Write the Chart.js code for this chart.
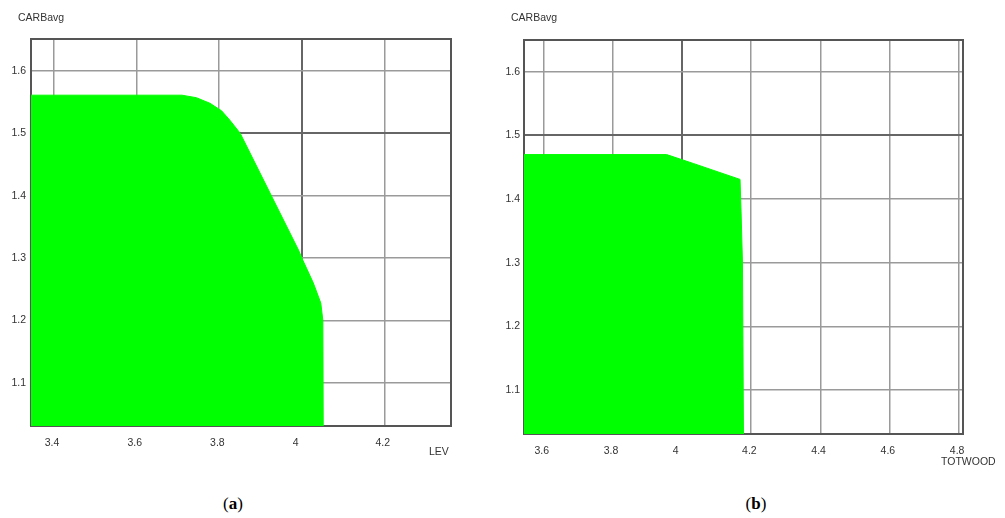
<!DOCTYPE html>
<html>
<head>
<meta charset="utf-8">
<script src="https://cdn.jsdelivr.net/npm/chart.js@4/dist/chart.umd.min.js"></script>
<style>
  body { margin: 0; background: #fff; width: 1005px; height: 518px; position: relative; overflow: hidden; }
  canvas { position: absolute; top: 0; }
  .lbl { position: absolute; font: 10.5px "Liberation Sans", Arial, sans-serif; color: #333; line-height: 1; white-space: nowrap; }
  .cap { position: absolute; font: 17px "Liberation Serif", "Times New Roman", serif; color: #000; line-height: 1; text-align: center; width: 60px; }
</style>
</head>
<body>
<canvas id="chartA" width="500" height="470" style="left:0"></canvas>
<canvas id="chartB" width="505" height="470" style="left:500px"></canvas>

<div class="lbl" style="left:18px;top:12px">CARBavg</div>
<div class="lbl" style="left:429px;top:446px">LEV</div>
<div class="cap" style="left:203px;top:495px">(<b>a</b>)</div>

<div class="lbl" style="left:511px;top:12px">CARBavg</div>
<div class="lbl" style="left:941px;top:456px">TOTWOOD</div>
<div class="cap" style="left:726px;top:495px">(<b>b</b>)</div>

<script>
// panel (a): CARBavg vs LEV
const levX = [3.345, 3.71, 3.745, 3.778, 3.806, 3.826, 3.851, 3.992, 4.003, 4.028, 4.046, 4.051, 4.052];
const levY = [1.561, 1.561, 1.557, 1.548, 1.536, 1.521, 1.5, 1.313, 1.296, 1.26, 1.228, 1.2, 1.031];
const levTicks = [3.4, 3.6, 3.8, 4.0, 4.2];

// panel (b): CARBavg vs TOTWOOD
const woodX = [3.544, 3.956, 4.033, 4.168, 4.171, 4.175, 4.178];
const woodY = [1.47, 1.47, 1.456, 1.431, 1.38, 1.3, 1.031];
const woodTicks = [3.6, 3.8, 4.0, 4.2, 4.4, 4.6, 4.8];

const carbTicks = [1.1, 1.2, 1.3, 1.4, 1.5, 1.6];

const GREEN = '#00ff00';
const tickFont = { family: '"Liberation Sans", Arial, sans-serif', size: 10.5 };

// outline of the plot area, under the green fill
const frame = {
  id: 'frame',
  beforeDatasetsDraw(chart) {
    const a = chart.chartArea;
    const ctx = chart.ctx;
    ctx.save();
    ctx.strokeStyle = '#555';
    ctx.lineWidth = 2;
    ctx.strokeRect(a.left, a.top, a.right - a.left, a.bottom - a.top);
    ctx.restore();
  }
};

function makeChart(id, xs, ys, xTicks, xr, yr, box) {
  const pts = xs.map((x, i) => ({ x: x, y: ys[i] }));
  return new Chart(document.getElementById(id), {
    type: 'line',
    data: {
      datasets: [{
        data: pts,
        borderColor: GREEN,
        borderWidth: 1,
        backgroundColor: GREEN,
        fill: 'start',
        pointRadius: 0,
        tension: 0
      }]
    },
    options: {
      responsive: false,
      animation: false,
      layout: { padding: { top: box.top, right: box.right, left: 0, bottom: 0 } },
      plugins: { legend: { display: false }, tooltip: { enabled: false } },
      scales: {
        x: {
          type: 'linear',
          min: xr[0],
          max: xr[1],
          afterBuildTicks: (s) => { s.ticks = xTicks.map(v => ({ value: v })); },
          afterFit: (s) => { s.height = box.xh; },
          border: { display: false },
          grid: {
            drawTicks: false,
            color: (c) => c.tick && c.tick.value === 4 ? '#666' : '#9a9a9a',
            lineWidth: (c) => c.tick && c.tick.value === 4 ? 2 : 1.5
          },
          ticks: {
            align: 'start',
            labelOffset: -9,
            padding: 11,
            color: '#333',
            font: tickFont,
            maxRotation: 0,
            callback: (v) => String(Math.round(v * 10) / 10)
          }
        },
        y: {
          type: 'linear',
          min: yr[0],
          max: yr[1],
          afterBuildTicks: (s) => { s.ticks = carbTicks.map(v => ({ value: v })); },
          afterFit: (s) => { s.width = box.yw; },
          border: { display: false },
          grid: {
            drawTicks: false,
            color: (c) => c.tick && c.tick.value === 1.5 ? '#666' : '#9a9a9a',
            lineWidth: (c) => c.tick && c.tick.value === 1.5 ? 2 : 1.5
          },
          ticks: {
            padding: box.yp,
            color: '#333',
            font: tickFont,
            callback: (v) => v.toFixed(1)
          }
        }
      }
    },
    plugins: [frame]
  });
}

makeChart('chartA', levX, levY, levTicks, [3.345, 4.361], [1.031, 1.651],
  { top: 39, right: 49, xh: 44, yw: 31, yp: 5 });
makeChart('chartB', woodX, woodY, woodTicks, [3.544, 4.812], [1.031, 1.65],
  { top: 40, right: 42, xh: 36, yw: 24, yp: 4 });
</script>
</body>
</html>
